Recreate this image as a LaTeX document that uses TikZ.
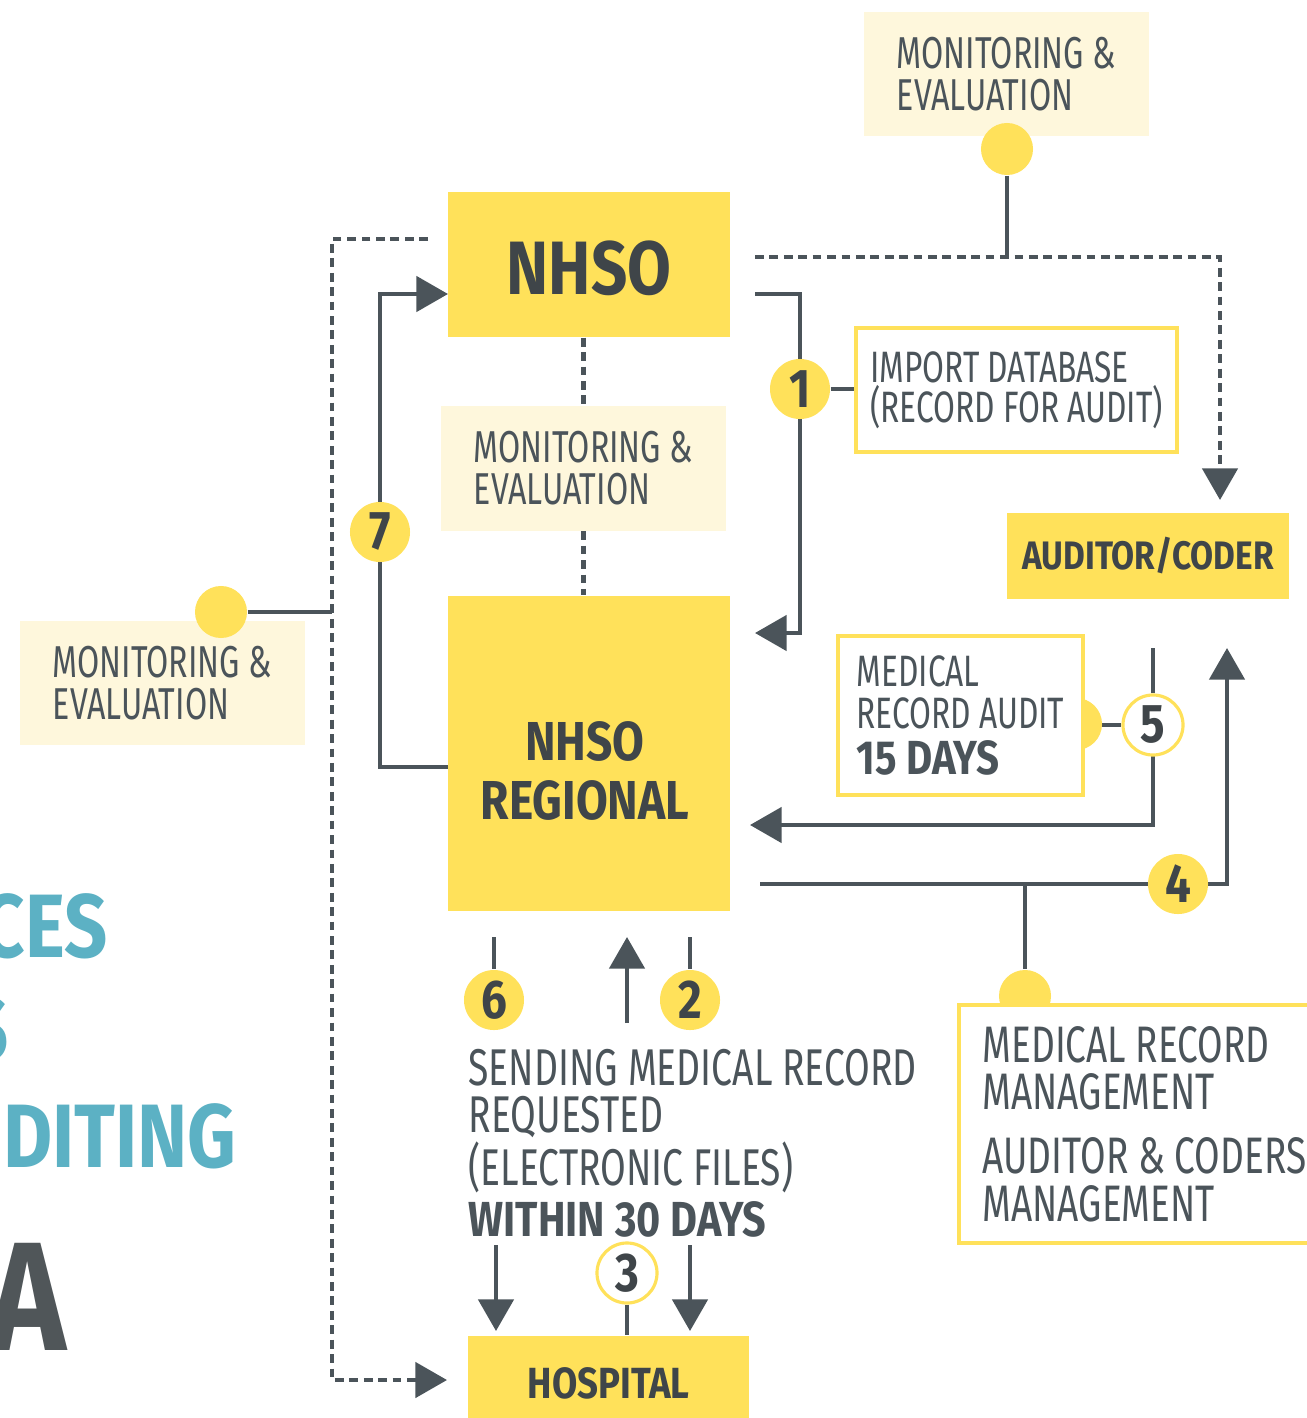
\documentclass[tikz,border=0pt]{standalone}
\usepackage{fontspec}
\setmainfont{Fira Sans}[FakeStretch=0.72]
\newfontfamily\widefamily{Fira Sans}[FakeStretch=0.84]
\usetikzlibrary{arrows.meta,positioning}

\definecolor{boxyellow}{HTML}{FFE15A}
\definecolor{paleyellow}{HTML}{FEF7DC}
\definecolor{linegray}{HTML}{4B545A}
\definecolor{darkgray}{HTML}{3F4549}
\definecolor{titleblue}{HTML}{5CB1C4}
\definecolor{titlegray}{HTML}{505659}

\newcommand{\fs}[2]{\fontsize{#1}{#2}\selectfont}
\newcommand{\heavytext}{\widefamily\bfseries}

\pgfdeclarelayer{back}
\pgfsetlayers{back,main}

\tikzset{
  flow/.style={draw=linegray, line width=1.2pt},
  dotflow/.style={draw=linegray, line width=1.2pt, dash pattern=on 2.5pt off 1.6pt},
  arr/.style={-{Triangle[width=10pt,length=9pt]}},
  mainbox/.style={fill=boxyellow, inner sep=0pt, text=darkgray},
  mebox/.style={fill=paleyellow, inner sep=0pt, text=linegray, align=left,
    minimum width=2.85cm, minimum height=1.24cm, font=\fs{12.7}{12}},
  notebox/.style={draw=boxyellow, line width=1pt, fill=white, inner sep=0pt,
    text=linegray, align=left},
  numdot/.style={circle, fill=boxyellow, minimum size=0.6cm, inner sep=0pt,
    text=darkgray, font=\fs{15.5}{15.5}\heavytext},
  numring/.style={numdot, fill=white, draw=boxyellow, line width=0.9pt},
  pin/.style={circle, fill=boxyellow, minimum size=0.52cm, inner sep=0pt},
  titletext/.style={anchor=base east, inner sep=0pt, font=\fs{25.6}{26}\heavytext},
}

\begin{document}
\begin{tikzpicture}[x=0.01cm, y=-0.01cm]
  \useasboundingbox (0,0) rectangle (1307,1418);
  \clip (0,0) rectangle (1307,1418);

  % title, cut at the left edge
  \node[titletext, text=titleblue] (ttl1) at (108,957) {CES};
  \node[titletext, text=titleblue] (ttl2) at (9,1060) {S};
  \node[titletext, text=titleblue] (ttl3) at (237,1167) {DITING};
  \node[titletext, text=titlegray, font=\fs{44}{44}\heavytext] (ttl4) at (67,1350) {A};

  % yellow boxes
  \node[mainbox, minimum width=2.82cm, minimum height=1.45cm, text height=0.62cm, font=\fs{21.5}{21.5}\heavytext] (nhso) at (589,264.5) {NHSO};
  \node[mainbox, minimum width=2.82cm, minimum height=3.15cm] (regional) at (589,753.5) {};
  \node[align=center, text=darkgray, font=\fs{15.6}{17}\heavytext] (regionaltxt) at (585,771) {NHSO\\REGIONAL};
  \node[mainbox, minimum width=2.81cm, minimum height=0.94cm, font=\fs{12.4}{12}\heavytext] (hospital) at (608.5,1383) {HOSPITAL};
  \node[mainbox, minimum width=2.82cm, minimum height=0.85cm, font=\fs{11.3}{12}\heavytext] (auditor) at (1148,556) {AUDITOR/CODER};

  % monitoring boxes
  \node[mebox] (meTop) at (1006.5,74) {MONITORING \&\\EVALUATION};
  \node[mebox] (meMid) at (583.5,468.5) {MONITORING \&\\EVALUATION};
  \node[mebox] (meLeft) at (162.5,683) {MONITORING \&\\EVALUATION};
  \node[pin] (pinTop) at (1007,149) {};
  \node[pin] (pinLeft) at (221,612) {};

  % notes
  \node[notebox, minimum width=3.21cm, minimum height=1.24cm, font=\fs{12.5}{11.4}] (import) at (1016.5,390) {IMPORT DATABASE\\(RECORD FOR AUDIT)};
  \node[pin] (pinAudit) at (1076,724) {};
  \node[notebox, minimum width=2.45cm, minimum height=1.59cm, font=\fs{12.5}{12}] (audit) at (960.5,715.5) {MEDICAL\\RECORD AUDIT\\[1pt]{\fs{13.6}{13}\heavytext 15 DAYS}};
  \node[pin] (pinMgmt) at (1025,996) {};
  \node[notebox, minimum width=3.71cm, minimum height=2.38cm, font=\fs{14.6}{13.6}] (mgmt) at (1144.5,1124) {MEDICAL RECORD\\MANAGEMENT\\[4.5pt]AUDITOR \& CODERS\\MANAGEMENT};
  \node[anchor=north west, inner sep=0pt, align=left, text=linegray, font=\fs{14.7}{13.5}] (sending) at (468,1048.5) {SENDING MEDICAL RECORD\\REQUESTED\\(ELECTRONIC FILES)\\[1pt]{\fs{14}{13.5}\heavytext WITHIN 30 DAYS}};

  % step numbers
  \node[numdot] (n1) at (800,389) {1};
  \node[numdot] (n2) at (690,1000) {2};
  \node[numring] (n3) at (627,1273) {3};
  \node[numdot] (n4) at (1178,884) {4};
  \node[numring] (n5) at (1153,725) {5};
  \node[numdot] (n6) at (494,1000) {6};
  \node[numdot] (n7) at (380,532) {7};

  % free ends of the connectors
  \coordinate (topOut) at (755,257);
  \coordinate (audIn) at (1220,500);
  \coordinate (leftOut) at (428,239);
  \coordinate (leftCorner) at (332,1380);
  \coordinate (hospIn) at (447,1380);
  \coordinate (oneOut) at (755,294);
  \coordinate (oneIn) at (755,633);
  \coordinate (sevenOut) at (448,767);
  \coordinate (sevenIn) at (448,294);
  \coordinate (fiveTop) at (1153,648);
  \coordinate (fiveIn) at (750,825);
  \coordinate (fourOut) at (760,884);
  \coordinate (fourIn) at (1227,648);
  \coordinate (sixTop) at (494,937);
  \coordinate (twoTop) at (690,937);
  \coordinate (upFrom) at (627,1023);
  \coordinate (upTo) at (627,937);
  \coordinate (sixDown) at (496,1245);
  \coordinate (twoDown) at (690,1245);
  \coordinate (sixIn) at (496,1331);
  \coordinate (twoIn) at (690,1331);

  \begin{pgfonlayer}{back}
    \draw[flow] (pinTop) -- (pinTop |- topOut);
    \draw[dotflow,arr] (topOut) -| (audIn);
    \draw[dotflow,arr] (leftOut) -| (leftCorner) -- (hospIn);
    \draw[flow] (pinLeft) -- (pinLeft -| leftCorner);
    \draw[dotflow] (nhso.south -| meMid.north) -- (meMid.north);
    \draw[dotflow] (meMid.south) -- (meMid.south |- regional.north);
    \draw[flow,arr] (sevenOut) -| (n7.center) |- (sevenIn);
    \draw[flow,arr] (oneOut) -| (n1.center) |- (oneIn);
    \draw[flow] (n1) -- (n1 -| import.west);
    \draw[flow] (fiveTop) -- (n5);
    \draw[flow] (n5 -| audit.east) -- (n5);
    \draw[flow,arr] (n5.center) |- (fiveIn);
    \draw[flow,arr] (fourOut) -| (fourIn);
    \draw[flow] (pinMgmt |- fourOut) -- (pinMgmt);
    \draw[flow] (sixTop) -- (n6);
    \draw[flow] (twoTop) -- (n2);
    \draw[flow,arr] (upFrom) -- (upTo);
    \draw[flow,arr] (sixDown) -- (sixIn);
    \draw[flow,arr] (twoDown) -- (twoIn);
    \draw[flow] (n3) -- (n3 |- hospital.north);
  \end{pgfonlayer}
\end{tikzpicture}
\end{document}
